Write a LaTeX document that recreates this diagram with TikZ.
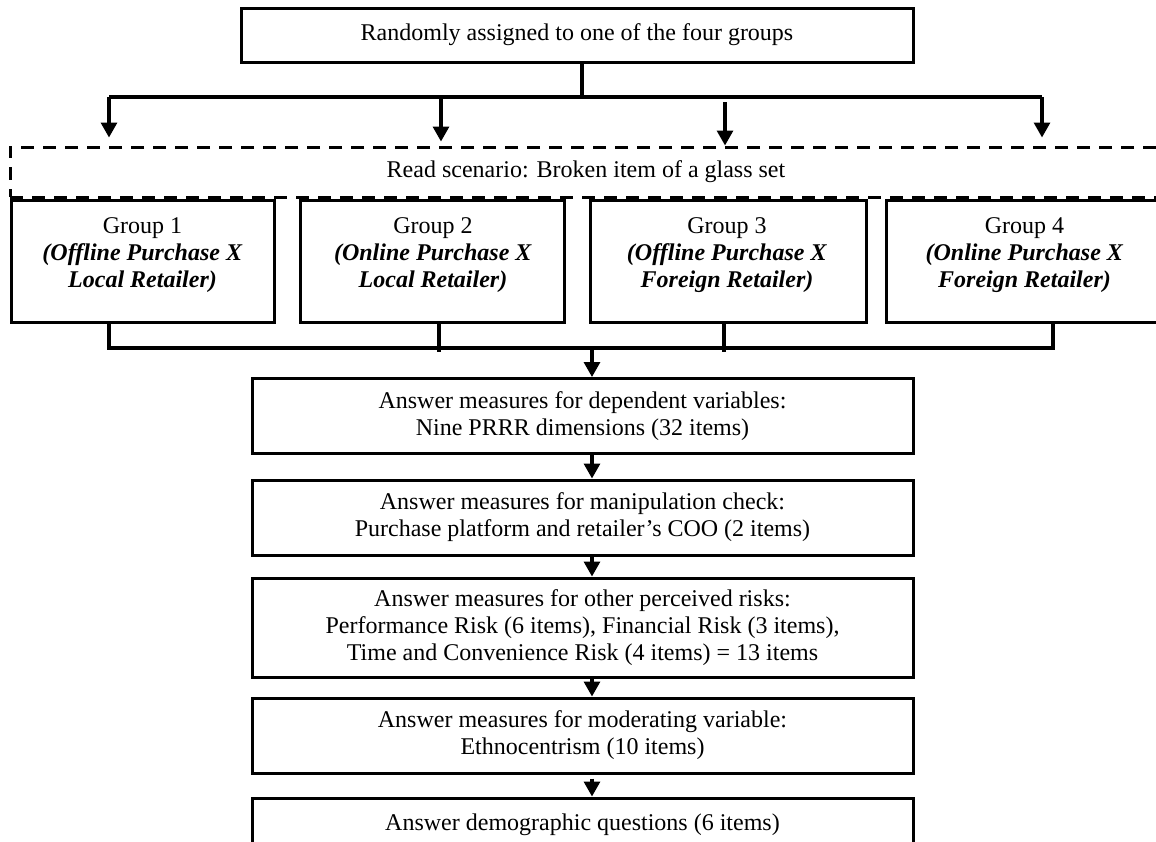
\documentclass[tikz,border=0pt]{standalone}
\usepackage{fontspec}
\setmainfont{Liberation Serif}
\usetikzlibrary{arrows.meta}
\newcommand{\grpcond}[1]{\textbf{\textit{#1}}}
\begin{document}
\begin{tikzpicture}[x=0.5pt,y=-0.5pt,
  box/.style={draw, line width=1.5pt, inner sep=0pt, align=center,
    font=\fontsize{12}{13.5}\selectfont},
  dbox/.style={draw, line width=1.5pt, dash pattern=on 6.5pt off 4.5pt, inner sep=0pt},
  txt/.style={align=center, font=\fontsize{12}{13.6}\selectfont, inner sep=0pt},
  conn/.style={line width=1.6pt},
  arr/.style={line width=1.6pt, -{Triangle[width=8pt,length=7.5pt]}},
  qbox/.style={box, minimum width=330.5pt, minimum height=37.5pt},
]
\useasboundingbox (0,0) rectangle (1156,841);
\clip (0,0) rectangle (1156,841);

% assignment box and distribution bar
\node[box, minimum width=336pt, minimum height=27pt] (top) at (577,35)
  {Randomly assigned to one of the four groups};
\coordinate (split) at (582,97);
\coordinate (d1) at (109,97);
\coordinate (d2) at (441,97);
\coordinate (d3) at (725,102);
\coordinate (d4) at (1042,97);
\draw[conn] (top.south -| split) -- (split);
\draw[conn] (d1) -- (d4);

% scenario band
\node[dbox, minimum width=587.5pt, minimum height=25pt] (scen) at (597.5,172) {};
\node[txt] (scent) at (586,172) {Read scenario: Broken item of a glass set};
\draw[arr] (d1) -- ([yshift=4pt]d1 |- scen.north);
\draw[arr] (d2) -- ([yshift=2pt]d2 |- scen.north);
\draw[arr] (d3) -- (d3 |- scen.north);
\draw[arr] (d4) -- ([yshift=4pt]d4 |- scen.north);

% experimental groups
\node[box, minimum width=131.5pt, minimum height=61pt] (g1) at (142.5,261) {};
\node[box, minimum width=132pt, minimum height=61pt] (g2) at (432,261) {};
\node[box, minimum width=138pt, minimum height=61pt] (g3) at (728,261) {};
\node[box, minimum width=149.5pt, minimum height=61pt] (g4) at (1035.5,261) {};
\node[txt] (g1t) at (142.5,255) {Group 1\\\grpcond{(Offline Purchase X}\\\grpcond{Local Retailer)}};
\node[txt] (g2t) at (433,255) {Group 2\\\grpcond{(Online Purchase X}\\\grpcond{Local Retailer)}};
\node[txt] (g3t) at (727,255) {Group 3\\\grpcond{(Offline Purchase X}\\\grpcond{Foreign Retailer)}};
\node[txt] (g4t) at (1024.5,255) {Group 4\\\grpcond{(Online Purchase X}\\\grpcond{Foreign Retailer)}};

% merging bar
\coordinate (m1) at (109,348);
\coordinate (m2) at (439,352);
\coordinate (m3) at (724,352);
\coordinate (m4) at (1053,348);
\coordinate (mA) at (592,348);
\draw[conn] (g1.south -| m1) -- (m1) -- (m4) -- (g4.south -| m4);
\draw[conn] (g2.south -| m2) -- (m2);
\draw[conn] (g3.south -| m3) -- (m3);

% questionnaire sequence
\node[qbox] (bA) at (582.5,416) {Answer measures for dependent variables:\\Nine PRRR dimensions (32 items)};
\node[qbox] (bB) at (582.5,517.5) {Answer measures for manipulation check:\\Purchase platform and retailer’s COO (2 items)};
\node[qbox, minimum height=49.5pt] (bC) at (582.5,627.5) {Answer measures for other perceived risks:\\Performance Risk (6 items), Financial Risk (3 items),\\Time and Convenience Risk (4 items) = 13 items};
\node[qbox] (bD) at (582.5,735.5) {Answer measures for moderating variable:\\Ethnocentrism (10 items)};
\node[qbox, minimum height=51pt] (bE) at (582.5,849) {};
\node[txt] (bEt) at (582.5,825) {Answer demographic questions (6 items)};

\draw[arr] (mA) -- (mA |- bA.north);
\draw[arr] (bA.south -| mA) -- (bB.north -| mA);
\draw[arr] (bB.south -| mA) -- (bC.north -| mA);
\draw[arr] (bC.south -| mA) -- (bD.north -| mA);
\draw[arr] ([yshift=-2pt]bD.south -| mA) -- (bE.north -| mA);
\end{tikzpicture}
\end{document}
